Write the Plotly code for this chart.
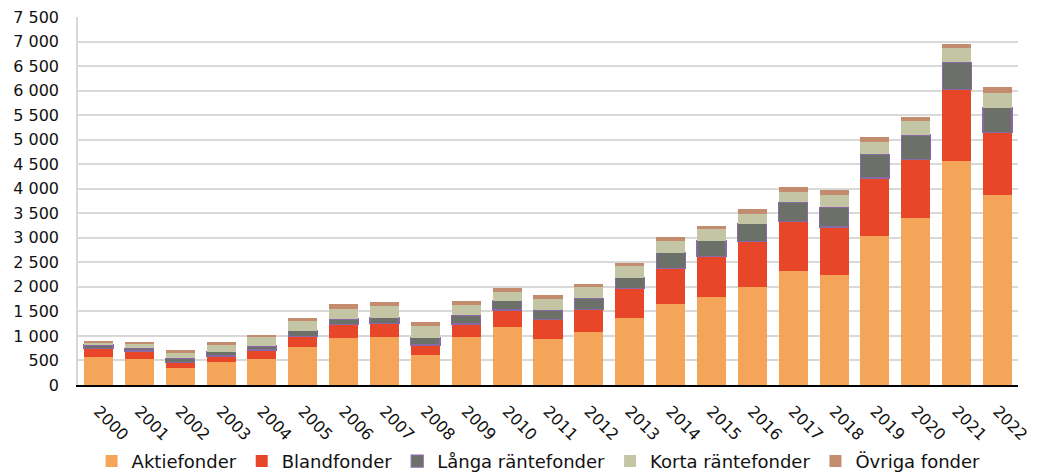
import plotly.graph_objects as go

years = [str(y) for y in range(2000, 2023)]
aktiefonder = [580, 525, 355, 465, 530, 770, 960, 985, 605, 970, 1175, 930, 1075, 1360, 1650, 1800, 2005, 2330, 2235, 3040, 3405, 4575, 3870]
blandfonder = [170, 170, 110, 125, 185, 215, 265, 270, 210, 275, 355, 400, 470, 600, 720, 815, 920, 1000, 985, 1180, 1195, 1450, 1275]
langa = [65, 55, 80, 90, 80, 120, 120, 120, 150, 175, 185, 190, 225, 225, 325, 325, 360, 390, 405, 480, 495, 550, 510]
korta = [55, 100, 120, 155, 180, 205, 205, 230, 240, 210, 190, 230, 225, 245, 240, 235, 205, 210, 250, 260, 280, 285, 305]
ovriga = [27, 33, 40, 40, 45, 50, 95, 85, 70, 80, 75, 75, 65, 60, 75, 75, 90, 100, 100, 100, 90, 100, 115]

series = [
    ("Aktiefonder", aktiefonder, "#F5A55A", None),
    ("Blandfonder", blandfonder, "#E84628", None),
    ("Långa räntefonder", langa, "#6B7068", "#8A6AA6"),
    ("Korta räntefonder", korta, "#C4C5A5", None),
    ("Övriga fonder", ovriga, "#C48C6F", None),
]

fig = go.Figure()
for name, vals, color, line in series:
    fig.add_trace(go.Bar(
        x=years, y=vals, name=name,
        marker=dict(color=color, line=dict(color=line if line else color, width=1.2 if line else 0)),
    ))

font = "DejaVu Sans, Verdana, sans-serif"
fig.update_layout(
    barmode="stack",
    bargap=0.29,
    width=1030, height=466,
    margin=dict(l=70, r=20, t=9, b=89),
    paper_bgcolor="white", plot_bgcolor="white",
    separators=", ",
    font=dict(family=font, size=16, color="#111111"),
    showlegend=True,
    legend=dict(orientation="h", x=0.49, xanchor="center", xref="paper",
                y=0.027, yanchor="middle", yref="container",
                font=dict(size=18), traceorder="normal", itemwidth=30),
    xaxis=dict(tickangle=45, tickfont=dict(size=16), showline=True, linecolor="#000000",
               linewidth=1.5, ticks="", showgrid=False, automargin=False,
               ticklabelstandoff=9),
    yaxis=dict(range=[0, 7500], dtick=500, tickformat=",d", showgrid=True,
               gridcolor="#D9D9D9", gridwidth=1.5, showline=True, linecolor="#D9D9D9",
               linewidth=1.5, ticks="", zeroline=False, tickfont=dict(size=16),
               automargin=False, ticklabelstandoff=14, ticklabeloverflow="allow"),
)

fig.write_html("out.html")
